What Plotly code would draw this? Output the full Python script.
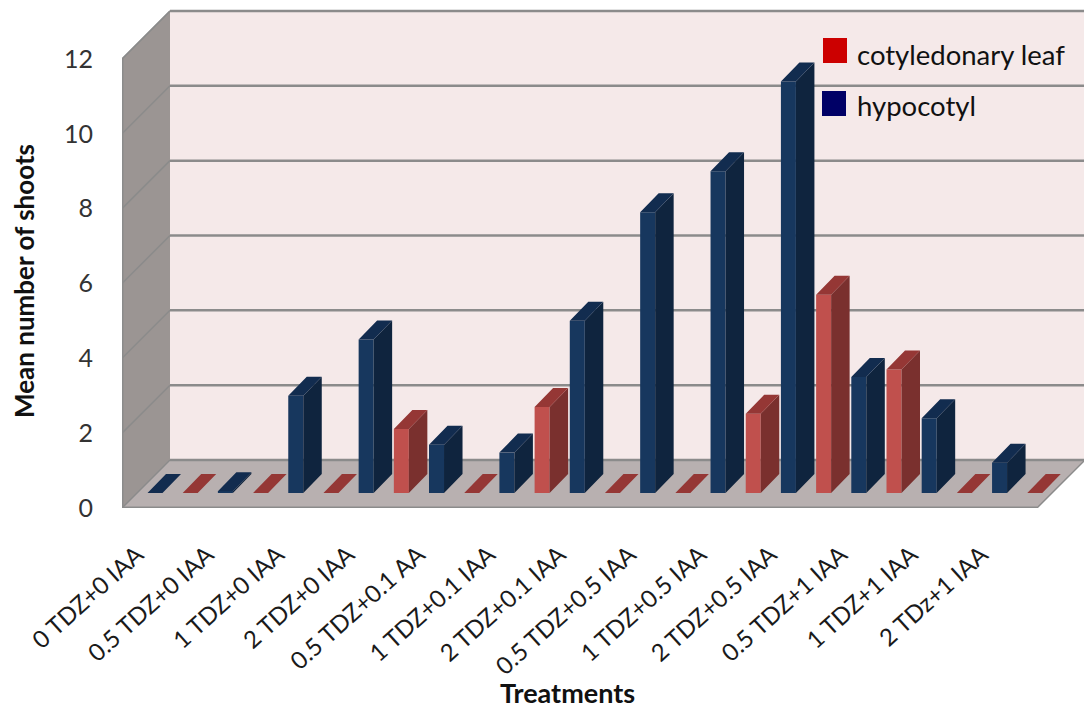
import plotly.graph_objects as go

# ---- data ----
treatments = ["0 TDZ+0 IAA", "0.5 TDZ+0 IAA", "1 TDZ+0 IAA", "2 TDZ+0 IAA", "0.5 TDZ+0.1 AA",
              "1 TDZ+0.1 IAA", "2 TDZ+0.1 IAA", "0.5 TDZ+0.5 IAA", "1 TDZ+0.5 IAA",
              "2 TDZ+0.5 IAA", "0.5 TDZ+1 IAA", "1 TDZ+1 IAA", "2 TDz+1 IAA"]
hypocotyl = [0, 0.05, 2.6, 4.1, 1.29, 1.08, 4.6, 7.5, 8.6, 11.0, 3.1, 2.0, 0.81]
cotyledonary_leaf = [0, 0, 0, 1.71, 0, 2.3, 0, 0, 2.12, 5.3, 3.3, 0, 0]
y_ticks = [0, 2, 4, 6, 8, 10, 12]

# ---- geometry: plot area spans x 122..1084 px, y 0..508 px ----
W, H = 1084, 709
LEFT, FLOOR = 122, 508
PX_PER_GROUP = 70.38
PX_PER_UNIT = 37.42
def ux(px): return px / PX_PER_GROUP
def uy(px): return px / PX_PER_UNIT
def X(px): return (px - LEFT) / PX_PER_GROUP      # absolute pixel -> x data
def Y(py): return (FLOOR - py) / PX_PER_UNIT      # absolute pixel -> y data
def PX(px): return (px - LEFT) / (W - LEFT)       # absolute pixel -> paper x
def PY(py): return (FLOOR - py) / FLOOR           # absolute pixel -> paper y

n = len(treatments)
WALL_DX, WALL_DY = ux(48), uy(48)
BASE = uy(15)
BAR_W = ux(15)
BAR_DX, BAR_DY = ux(18.5), uy(19)
BLUE_POS, RED_POS = ux(25.5), ux(60.7)

GRID = "#8b8b8b"
shapes = []
def poly(pts, fill, line=None, lw=0):
    path = "M " + " L ".join(f"{a},{b}" for a, b in pts) + " Z"
    shapes.append(dict(type="path", path=path, fillcolor=fill, xref="x", yref="y", layer="below",
                       line=dict(color=line or fill, width=lw)))
def seg(a, b, c, d, w=2.5):
    shapes.append(dict(type="line", x0=a, y0=b, x1=c, y1=d, xref="x", yref="y", layer="below",
                       line=dict(color=GRID, width=w)))

x_end = X(W + 5)
top = max(y_ticks)
# back wall, side wall, floor
poly([(WALL_DX, WALL_DY), (x_end, WALL_DY), (x_end, WALL_DY + top), (WALL_DX, WALL_DY + top)], "#f5e9e9")
poly([(0, 0), (WALL_DX, WALL_DY), (WALL_DX, WALL_DY + top), (0, top)], "#9b9593")
poly([(0, 0), (n, 0), (n + WALL_DX, WALL_DY), (WALL_DX, WALL_DY)], "#b8b0b0")
for t in y_ticks:
    seg(0, t, WALL_DX, WALL_DY + t, 1.5)
    seg(WALL_DX, WALL_DY + t, x_end, WALL_DY + t)
seg(0, 0, 0, top, 3)
seg(0, top, WALL_DX, WALL_DY + top, 1.5)
seg(0, 0, n, 0, 3)
seg(n, 0, n + WALL_DX, WALL_DY, 1.5)

def faces(vals, offset):
    sx, sy, tx, ty = [], [], [], []
    for i, v in enumerate(vals):
        l = i + offset
        r = l + BAR_W
        h = BASE + v
        sx += [r, r + BAR_DX, r + BAR_DX, r, r, None]
        sy += [BASE, BASE + BAR_DY, h + BAR_DY, h, BASE, None]
        tx += [l, r, r + BAR_DX, l + BAR_DX, l, None]
        ty += [h, h, h + BAR_DY, h + BAR_DY, h, None]
    return sx, sy, tx, ty

fig = go.Figure()
for name, vals, offset, front, side, cap in [
    ("hypocotyl", hypocotyl, BLUE_POS, "#17375e", "#0f243e", "#122c4f"),
    ("cotyledonary leaf", cotyledonary_leaf, RED_POS, "#c0504d", "#7a302e", "#953735"),
]:
    sx, sy, tx, ty = faces(vals, offset)
    fig.add_trace(go.Bar(name=name, x=[i + offset + BAR_W / 2 for i in range(n)], y=vals, base=BASE,
                         width=BAR_W, marker=dict(color=front, line=dict(width=0)), showlegend=False))
    fig.add_trace(go.Scatter(x=sx, y=sy, mode="lines", fill="toself", fillcolor=side, line=dict(width=0),
                             hoverinfo="skip", showlegend=False))
    fig.add_trace(go.Scatter(x=tx, y=ty, mode="lines", fill="toself", fillcolor=cap, line=dict(width=0),
                             hoverinfo="skip", showlegend=False))

# legend keys and texts, axis titles
FONT = "Lato"
for py0, py1, px0, col, label in [(38, 63, 823, "#cc0000", "cotyledonary leaf"),
                                  (91, 116, 822, "#000066", "hypocotyl")]:
    shapes.append(dict(type="rect", xref="x", yref="y", x0=X(px0), x1=X(px0 + 24), y0=Y(py1), y1=Y(py0),
                       fillcolor=col, line=dict(width=0), layer="above"))
annotations = [dict(xref="paper", yref="paper", x=PX(855), y=PY(py), text=t, showarrow=False, xanchor="left",
                    yanchor="middle", font=dict(family=FONT, size=27.5, color="#111111"))
               for py, t in [(54, "cotyledonary leaf"), (106, "hypocotyl")]]
annotations.append(dict(xref="paper", yref="paper", x=PX(567), y=PY(692), text="<b>Treatments</b>", showarrow=False,
                        xanchor="center", yanchor="middle", font=dict(family=FONT, size=27, color="#111111")))
annotations.append(dict(xref="paper", yref="paper", x=PX(24), y=PY(281), text="<b>Mean number of shoots</b>",
                        showarrow=False, textangle=-90, xanchor="center", yanchor="middle",
                        font=dict(family=FONT, size=26, color="#111111")))

fig.update_layout(
    width=W, height=H, margin=dict(l=LEFT, r=0, t=0, b=H - FLOOR), autosize=False,
    paper_bgcolor="white", plot_bgcolor="white", barmode="overlay", showlegend=False,
    shapes=shapes, annotations=annotations,
    font=dict(family=FONT, color="#111111"),
    xaxis=dict(range=[0, X(W)], tickmode="array", tickvals=[i + ux(15) for i in range(n)], ticktext=treatments,
               tickangle=-42, tickfont=dict(family=FONT, size=24, color="#1a1a1a"), showgrid=False, zeroline=False,
               showline=False, ticks="", ticklabelstandoff=27),
    yaxis=dict(range=[0, Y(0)], tickmode="array", tickvals=y_ticks, tickfont=dict(family=FONT, size=25, color="#333333"),
               showgrid=False, zeroline=False, showline=False, ticks="", ticklabelstandoff=28),
)
fig.write_html("out.html", config=dict(displayModeBar=False),
               post_script="document.body.style.margin='0';document.body.style.overflow='hidden';")
